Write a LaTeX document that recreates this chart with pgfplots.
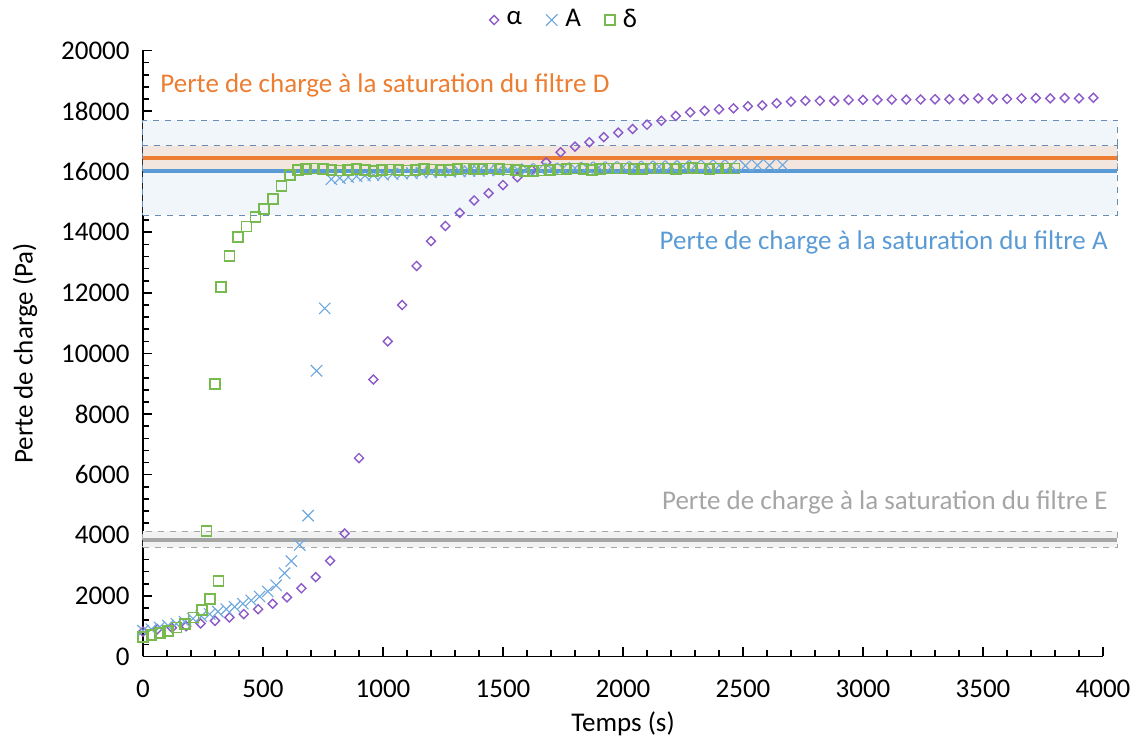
\documentclass[border=0pt]{standalone}
\usepackage{fontspec}
\setmainfont{Carlito}
\usepackage{pgfplots}
\pgfplotsset{compat=1.18}
\definecolor{cpurple}{RGB}{140,90,200}
\definecolor{cblue}{RGB}{91,155,213}
\definecolor{clblue}{RGB}{110,168,222}
\definecolor{cgreen}{RGB}{120,186,80}
\definecolor{corange}{RGB}{237,125,49}
\definecolor{cgray}{RGB}{165,165,165}
\definecolor{cbandb}{RGB}{241,246,251}
\definecolor{cbando}{RGB}{243,230,222}
\definecolor{cbandg}{RGB}{242,242,242}
\definecolor{cdash}{RGB}{105,140,180}
\begin{document}
\fontsize{13.5}{16}\selectfont
\begin{tikzpicture}
\useasboundingbox (-71.5pt,-43.25pt) rectangle (498pt,328.25pt);
\begin{axis}[
  scale only axis, width=480pt, height=303pt,
  xmin=0, xmax=4000, ymin=0, ymax=20000,
  xtick={0,500,...,4000}, ytick={0,2000,...,20000},
  scaled y ticks=false, scaled x ticks=false,
  minor x tick num=4, minor y tick num=4,
  axis x line=bottom, axis y line=left,
  axis line style={-, black, line width=0.8pt},
  tick align=inside,
  major tick length=4.5pt, minor tick length=3pt,
  every tick/.style={black, line width=0.8pt},
  /pgf/number format/assume math mode=true,
  /pgf/number format/1000 sep={},
  tick label style={font=\fontsize{13.5}{16}\selectfont},
  xticklabel style={yshift=-7pt},
  yticklabel style={xshift=-2pt},
  xlabel={Temps (s)}, ylabel={Perte de charge (Pa)},
  every axis x label/.style={at={(axis description cs:0.5,-0.1114)}, anchor=center},
  every axis y label/.style={at={(axis description cs:-0.1229,0.5)}, rotate=90, anchor=center},
  clip=false,
  legend style={at={(axis description cs:0.44,1.0503)}, anchor=center, draw=none, fill=none,
    legend columns=3, /tikz/every even column/.append style={column sep=10pt},
    /tikz/every odd column/.append style={column sep=2pt},
    font=\fontsize{13.5}{16}\selectfont},
  legend cell align=left,
]
% bands
\addplot[draw=cdash, dashed, line width=0.5pt, fill=cbandb, forget plot]
  coordinates {(0,14570) (4060,14570) (4060,17700) (0,17700) (0,14570)};
\addplot[draw=cdash, dashed, line width=0.5pt, fill=cbando, forget plot]
  coordinates {(0,16040) (4060,16040) (4060,16850) (0,16850) (0,16040)};
\addplot[draw=cgray, dashed, line width=0.5pt, fill=cbandg, forget plot]
  coordinates {(0,3600) (4060,3600) (4060,4140) (0,4140) (0,3600)};
\addplot[cgray, line width=2pt, forget plot] coordinates {(0,3830) (4060,3830)};

% alpha
\addplot[only marks, mark=square, mark size=1.6pt, cpurple, mark options={rotate=45, line width=0.7pt}]
coordinates {
(0,820)(60,900)(120,950)(180,1000)(240,1090)(300,1180)(360,1290)(420,1400)
(480,1560)(540,1740)(600,1950)(660,2250)(720,2620)(780,3160)(840,4060)
(900,6550)(960,9140)(1020,10400)(1080,11600)(1140,12890)(1200,13710)
(1260,14210)(1320,14640)(1380,15050)(1440,15290)(1500,15560)(1560,15820)
(1620,16060)(1680,16310)(1740,16640)(1800,16830)(1860,16970)(1920,17140)
(1980,17290)(2040,17410)(2100,17550)(2160,17680)(2220,17840)(2280,17960)
(2340,18010)(2400,18060)(2460,18090)(2520,18160)(2580,18190)(2640,18260)
(2700,18310)(2760,18340)(2820,18340)(2880,18340)(2940,18370)(3000,18370)
(3060,18370)(3120,18380)(3180,18380)(3240,18380)(3300,18390)(3360,18390)
(3420,18390)(3480,18420)(3540,18390)(3600,18400)(3660,18420)(3720,18430)
(3780,18420)(3840,18430)(3900,18420)(3960,18440)
};
% A
\addplot[only marks, mark=x, mark size=4pt, clblue, mark options={line width=0.55pt}]
coordinates {
(0,850)(35,900)(69,960)(104,1020)(139,1080)(173,1150)(208,1250)(243,1330)
(278,1400)(312,1480)(347,1560)(382,1640)(416,1740)(451,1850)(486,1980)
(520,2150)(555,2350)(590,2750)(618,3150)(653,3680)(688,4650)(723,9430)
(757,11490)
(785,15750)(820,15790)(855,15820)(890,15850)(925,15870)(960,15890)
(1000,15900)(1040,15920)(1080,15940)(1120,15950)(1160,15970)(1200,15980)
(1240,15990)(1280,16000)(1320,16010)(1360,16020)(1400,16030)(1440,16040)
(1480,16050)(1520,16060)(1560,16070)(1600,16080)(1650,16090)(1700,16100)
(1750,16110)(1800,16120)(1850,16130)(1900,16140)(1950,16150)(2000,16150)
(2050,16160)(2100,16170)(2150,16170)(2200,16180)(2250,16180)(2300,16190)
(2350,16190)(2400,16200)(2450,16200)(2510,16200)(2560,16210)(2610,16210)
(2665,16220)
};
% delta
\addplot[only marks, mark=square, mark size=2.5pt, cgreen, mark options={line width=0.8pt}]
coordinates {
(0,650)(35,710)(70,770)(105,850)(140,960)(175,1070)(210,1290)(245,1530)
(265,4140)(280,1890)(300,8990)(315,2500)(325,12190)(360,13220)(397,13840)
(432,14190)(469,14500)(503,14770)(542,15100)(577,15530)(612,15890)(646,16060)
(680,16080)(715,16100)(750,16090)(785,16060)(820,16040)(855,16060)(890,16080)
(925,16050)(960,16030)(995,16050)(1030,16070)(1065,16060)(1100,16040)
(1135,16060)(1170,16080)(1205,16070)(1240,16050)(1275,16060)(1310,16080)
(1345,16100)(1380,16090)(1415,16080)(1450,16100)(1485,16090)(1520,16070)
(1555,16050)(1590,16030)(1625,16020)(1660,16040)(1695,16060)(1730,16070)
(1765,16090)(1800,16100)(1835,16080)(1870,16060)(1905,16080)(1940,16100)
(1975,16110)(2010,16100)(2045,16090)(2080,16080)(2115,16100)(2150,16110)
(2185,16100)(2220,16090)(2255,16110)(2290,16120)(2325,16100)(2360,16090)
(2395,16100)(2430,16110)(2465,16100)
};
\addplot[corange, line width=2pt, forget plot] coordinates {(0,16440) (4060,16440)};
\addplot[cblue, line width=2pt, forget plot] coordinates {(0,16020) (4060,16020)};
\legend{α, A, δ}
\node[anchor=west, inner sep=0pt, text=corange] at (axis cs:71,18860)
  {Perte de charge à la saturation du filtre D};
\node[anchor=east, inner sep=0pt, text=cblue] at (axis cs:4021,13650)
  {Perte de charge à la saturation du filtre A};
\node[anchor=east, inner sep=0pt, text=cgray] at (axis cs:4021,5070)
  {Perte de charge à la saturation du filtre E};
\end{axis}
\end{tikzpicture}
\end{document}
